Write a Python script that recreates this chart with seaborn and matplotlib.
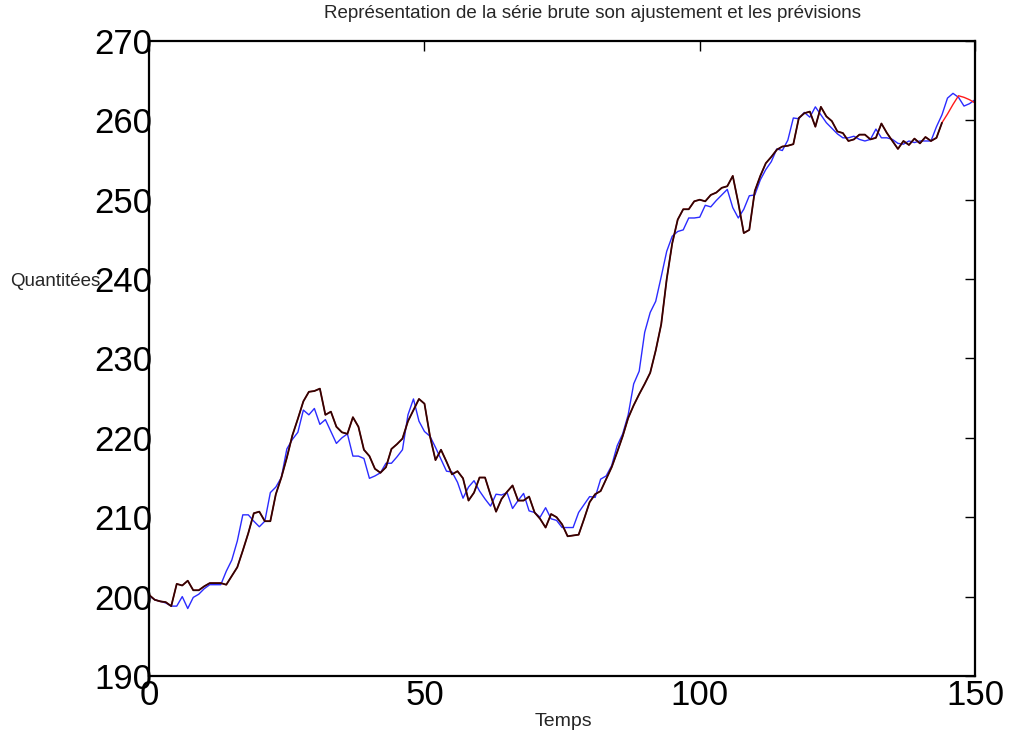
import numpy as np
import pandas as pd
import matplotlib
matplotlib.use("Agg")
import matplotlib.pyplot as plt
import seaborn as sns

# Raw series (t = 0 .. 150)
serie_brute = [
    200.1, 199.6, 199.4, 199.2, 198.8, 198.8, 200.0, 198.5, 199.9, 200.3,
    201.0, 201.5, 201.5, 201.5, 203.2, 204.6, 207.0, 210.3, 210.3, 209.5,
    208.8, 209.5, 213.1, 213.8, 215.0, 218.6, 219.8, 220.7, 223.5, 222.9,
    223.7, 221.7, 222.3, 220.8, 219.3, 220.0, 220.5, 217.7, 217.7, 217.4,
    214.9, 215.2, 215.6, 216.8, 216.8, 217.6, 218.5, 222.9, 224.9, 222.1,
    220.8, 220.2, 218.8, 217.3, 215.8, 215.7, 214.4, 212.4, 213.8, 214.6,
    213.3, 212.3, 211.4, 212.9, 212.8, 213.1, 211.1, 212.1, 213.0, 210.8,
    210.6, 210.0, 211.2, 209.8, 209.6, 208.7, 208.7, 208.7, 210.6, 211.6,
    212.6, 212.5, 214.8, 215.2, 216.5, 219.0, 220.5, 222.9, 226.8, 228.4,
    233.3, 235.8, 237.2, 240.3, 243.5, 245.4, 246.0, 246.2, 247.7, 247.7,
    247.8, 249.3, 249.1, 249.9, 250.6, 251.3, 249.0, 247.7, 248.8, 250.5,
    250.6, 252.5, 253.8, 254.8, 256.4, 256.2, 257.5, 260.3, 260.2, 261.0,
    260.4, 261.7, 260.7, 259.7, 259.0, 258.3, 257.8, 257.8, 258.0, 257.6,
    257.4, 257.6, 258.9, 257.8, 257.8, 257.6, 257.1, 257.0, 257.4, 257.2,
    257.4, 257.4, 257.4, 259.2, 260.7, 262.8, 263.4, 262.9, 261.8, 262.1,
    262.6,
]

# Fitted values (t = 0 .. 144)
ajustement = [
    200.2, 199.6, 199.4, 199.3, 198.8, 201.6, 201.4, 202.0, 200.8, 200.8,
    201.3, 201.7, 201.7, 201.7, 201.5, 202.6, 203.7, 205.8, 208.0, 210.5,
    210.7, 209.5, 209.5, 212.9, 215.0, 217.5, 220.3, 222.4, 224.6, 225.8,
    225.9, 226.2, 222.9, 223.3, 221.4, 220.7, 220.5, 222.6, 221.4, 218.5,
    217.7, 216.1, 215.6, 216.3, 218.6, 219.2, 219.9, 222.1, 223.5, 224.9,
    224.3, 220.2, 217.2, 218.5, 217.0, 215.4, 215.8, 214.9, 212.1, 213.1,
    215.0, 215.0, 212.8, 210.7, 212.3, 213.2, 214.0, 212.1, 212.1, 212.6,
    210.6, 209.8, 208.7, 210.4, 210.0, 209.1, 207.6, 207.7, 207.8, 209.8,
    211.9, 212.9, 213.3, 214.8, 216.3, 218.2, 220.2, 222.5, 224.1, 225.5,
    226.8, 228.2, 231.0, 234.3, 240.0, 244.5, 247.5, 248.8, 248.8, 249.8,
    250.0, 249.8, 250.6, 250.9, 251.5, 251.7, 253.0, 249.6, 245.8, 246.2,
    251.1, 253.0, 254.6, 255.4, 256.3, 256.7, 256.8, 257.0, 260.3, 260.9,
    261.1, 259.2, 261.7, 260.5, 259.9, 258.6, 258.4, 257.4, 257.6, 258.2,
    258.2, 257.6, 257.8, 259.6, 258.4, 257.4, 256.4, 257.4, 256.9, 257.7,
    257.1, 257.9, 257.4, 257.8, 259.7,
]

# Forecasts (t = 145 .. 150)
previsions = [260.8, 262.0, 263.1, 262.9, 262.6, 262.2]

x_ticks = [0, 50, 100, 150]
y_ticks = [190, 200, 210, 220, 230, 240, 250, 260, 270]

t_brute = np.arange(len(serie_brute))
t_ajust = np.arange(len(ajustement))
prev_full = ajustement + previsions
t_prev = np.arange(len(prev_full))

df_brute = pd.DataFrame({"t": t_brute, "v": serie_brute})
df_ajust = pd.DataFrame({"t": t_ajust, "v": ajustement})
df_prev = pd.DataFrame({"t": t_prev, "v": prev_full})

sns.set_style("white")
plt.rcParams["font.family"] = ["Liberation Sans", "DejaVu Sans"]

fig = plt.figure(figsize=(10.13, 7.33), dpi=100)
ax = fig.add_axes([0.1473, 0.0778, 0.8152, 0.8663])

sns.lineplot(data=df_brute, x="t", y="v", color="#2b2bff", linewidth=1.0,
             estimator=None, ax=ax)
sns.lineplot(data=df_prev, x="t", y="v", color="#ff1a1a", linewidth=1.0,
             estimator=None, ax=ax)
sns.lineplot(data=df_ajust, x="t", y="v", color="#300404", linewidth=1.3,
             estimator=None, ax=ax)

ax.set_xlim(0, 150)
ax.set_ylim(190, 270)
ax.set_xticks(x_ticks)
ax.set_yticks(y_ticks)
ax.set_xticklabels([str(v) for v in x_ticks])
ax.set_yticklabels([str(v) for v in y_ticks])

for s in ax.spines.values():
    s.set_visible(True)
    s.set_color("black")
    s.set_linewidth(1.6)

ax.tick_params(axis="both", direction="in", length=7, width=1.0,
               top=True, right=True, labelsize=25, colors="black")
ax.tick_params(axis="y", pad=-2)
ax.tick_params(axis="x", pad=2)

ax.set_xlabel("Temps", fontsize=14)
ax.xaxis.set_label_coords(0.501, -0.0724)
ax.xaxis.label.set_va("center")
ax.set_ylabel("Quantitées", fontsize=13.5, rotation=0, ha="right", va="center")
ax.yaxis.set_label_coords(-0.0596, 0.622)

ax.text(0.537, 1.0425, "Représentation de la série brute son ajustement et les prévisions",
        transform=ax.transAxes, ha="center", va="center", fontsize=13.5)

fig.savefig("out.png", dpi=100)
